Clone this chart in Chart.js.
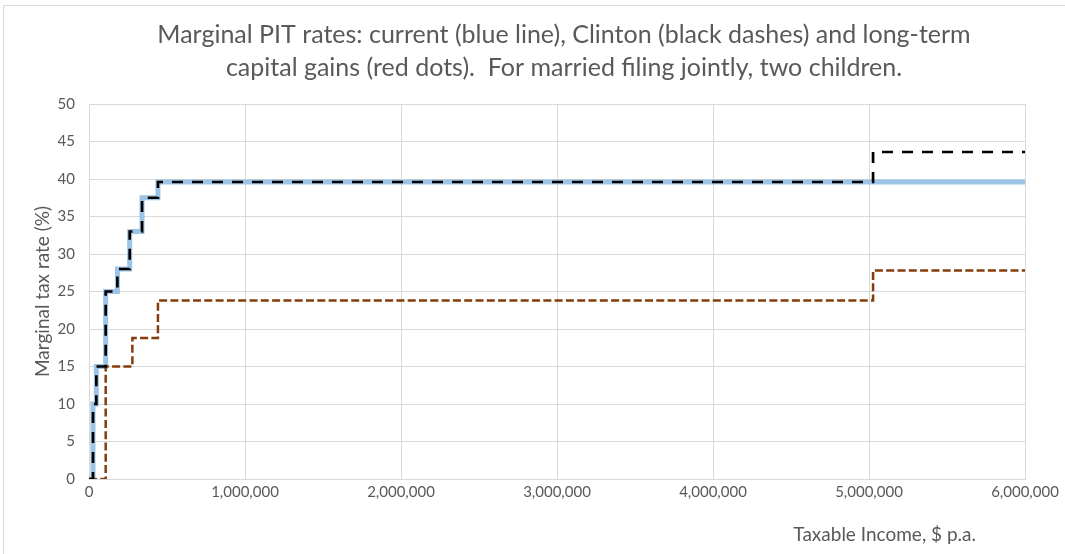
<!DOCTYPE html>
<html>
<head>
<meta charset="utf-8">
<script src="https://cdn.jsdelivr.net/npm/chart.js@4/dist/chart.umd.min.js"></script>
<style>
  html, body { margin: 0; padding: 0; background: #fff; overflow: hidden; }
  #box {
    position: absolute; left: 3px; top: 5px;
    width: 1070px; height: 560px;
    border: 1px solid #d9d9d9;
  }
</style>
</head>
<body>
<div id="box"><canvas id="rates-chart"></canvas></div>
<script>
// step points: income where the rate starts, and the rate (%)
const currentIncome = [0, 25600, 47000, 107000, 182000, 261000, 340000, 442000, 6000000];
const currentRate   = [0, 10, 15, 25, 28, 33, 37.5, 39.6, 39.6];

const clintonIncome = [0, 25600, 47000, 107000, 182000, 261000, 340000, 442000, 5026000, 6000000];
const clintonRate   = [0, 10, 15, 25, 28, 33, 37.5, 39.6, 43.6, 43.6];

const capGainsIncome = [0, 107000, 278000, 442000, 5026000, 6000000];
const capGainsRate   = [0, 15, 18.8, 23.8, 27.8, 27.8];

const xTicks = [0, 1000000, 2000000, 3000000, 4000000, 5000000, 6000000];
const yTicks = [0, 5, 10, 15, 20, 25, 30, 35, 40, 45, 50];

const titleLines = [
  'Marginal PIT rates: current (blue line), Clinton (black dashes) and long-term',
  'capital gains (red dots).  For married filing jointly, two children.'
];

// each point holds the rate that applies from that income on,
// so the step has to go across first and then up
function toSteps(xs, ys) {
  let pts = [];
  xs.forEach((x, i) => {
    if (i > 0) pts.push({ x: x, y: ys[i - 1] });
    pts.push({ x: x, y: ys[i] });
  });
  return pts;
}

const gray = '#595959';
const gridColor = '#d9d9d9';

// chart title and x axis title are placed off-centre, like the original
const textPlugin = {
  id: 'texts',
  afterDraw(chart) {
    const ctx = chart.ctx;
    const area = chart.chartArea;
    const mid = (area.left + area.right) / 2 + 7;
    ctx.save();
    ctx.fillStyle = gray;
    ctx.textBaseline = 'middle';
    ctx.textAlign = 'center';
    ctx.font = '25px Lato';
    ctx.fillText(titleLines[0], mid, 29);
    ctx.fillText(titleLines[1], mid, 62);
    ctx.font = '19px Lato';
    ctx.textAlign = 'right';
    ctx.fillText('Taxable Income, $ p.a.', area.right - 49, area.bottom + 56);
    ctx.restore();
  }
};

const config = {
  type: 'line',
  data: {
    datasets: [
      {
        label: 'Capital gains',
        data: toSteps(capGainsIncome, capGainsRate),
        borderColor: '#843c0c',
        borderWidth: 2.5,
        borderDash: [8, 3.3],
        pointRadius: 0,
        fill: false,
        order: 2
      },
      {
        label: 'Clinton',
        data: toSteps(clintonIncome, clintonRate),
        borderColor: '#000000',
        borderWidth: 2.7,
        borderDash: [11, 9],
        pointRadius: 0,
        fill: false,
        order: 1
      },
      {
        label: 'Current',
        data: toSteps(currentIncome, currentRate),
        borderColor: '#9dc3e6',
        borderWidth: 5,
        pointRadius: 0,
        fill: false,
        order: 3
      }
    ]
  },
  options: {
    responsive: true,
    maintainAspectRatio: false,
    animation: false,
    layout: { padding: { left: 27, right: 49, top: 98, bottom: 61 } },
    plugins: {
      legend: { display: false },
      tooltip: { enabled: false },
      title: { display: false }
    },
    scales: {
      x: {
        type: 'linear',
        min: 0,
        max: 6000000,
        afterBuildTicks: axis => { axis.ticks = xTicks.map(v => ({ value: v })); },
        ticks: {
          color: gray,
          font: { family: 'Lato', size: 15 },
          padding: 4,
          maxRotation: 0,
          callback: v => v.toLocaleString('en-US')
        },
        grid: { color: gridColor, lineWidth: 1, drawTicks: false },
        border: { color: gridColor }
      },
      y: {
        min: 0,
        max: 50,
        afterBuildTicks: axis => { axis.ticks = yTicks.map(v => ({ value: v })); },
        afterFit: axis => { axis.width = 58; },
        ticks: {
          color: gray,
          font: { family: 'Lato', size: 15 },
          padding: 14
        },
        grid: { color: gridColor, lineWidth: 1, drawTicks: false },
        border: { color: gridColor },
        title: {
          display: true,
          text: 'Marginal tax rate (%)',
          color: gray,
          font: { family: 'Lato', size: 19 },
          padding: { top: 0, bottom: 0 }
        }
      }
    }
  },
  plugins: [textPlugin]
};

new Chart(document.getElementById('rates-chart'), config);
</script>
</body>
</html>
